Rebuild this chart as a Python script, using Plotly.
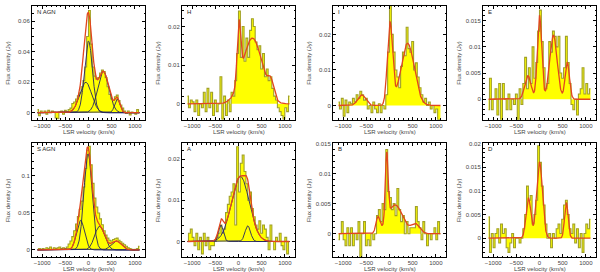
import numpy as np
import plotly.graph_objects as go

# ---------------- data ----------------
VEL = [-1100, -1060, -1020, -980, -940, -900, -860, -820, -780, -740, -700, -660, -620, -580,
       -540, -500, -460, -420, -380, -340, -300, -260, -220, -180, -140, -100, -60, -20,
       20, 60, 100, 140, 180, 220, 260, 300, 340, 380, 420, 460, 500, 540, 580, 620,
       660, 700, 740, 780, 820, 860, 900, 940, 980, 1020, 1060, 1100]

PANEL_NAMES = ["N AGN", "H", "I", "E", "S AGN", "A", "B", "D"]

FLUX_N_AGN = [0.002, -0.002, 0.001, 0.0, 0.001, -0.001, 0.0015, 0.0, 0.001, 0.0005, -0.0035, -0.004, 0.0005, 0.001,
              -0.001, 0.0015, 0.0005, 0.002, 0.003, 0.006, 0.007, 0.009, 0.011, 0.013, 0.017, 0.021, 0.03, 0.05,
              0.067, 0.045, 0.03, 0.024, 0.022, 0.023, 0.026, 0.028, 0.027, 0.023, 0.017, 0.012, 0.009, 0.008, 0.0105, 0.0115,
              0.008, 0.005, 0.003, 0.001, -0.0005, 0.001, -0.0015, 0.0005, 0.0, -0.001, 0.002, 0.0]
FLUX_H = [0.002, -0.001, 0.001, 0.0005, -0.002, 0.001, -0.003, 0.0, -0.001, 0.003, -0.002, 0.004, -0.001, 0.003,
          -0.003, 0.001, -0.002, 0.0, 0.007, -0.004, 0.002, -0.003, 0.001, -0.002, 0.003, 0.002, 0.006, 0.013,
          0.024, 0.012, 0.02, 0.011, 0.017, 0.012, 0.019, 0.022, 0.02, 0.016, 0.014, 0.015, 0.009, 0.013, 0.007, 0.009,
          0.006, 0.007, 0.004, 0.002, 0.001, -0.001, -0.002, -0.003, -0.004, -0.001, -0.002, 0.002]
FLUX_I = [0.001, -0.001, 0.002, -0.003, 0.0015, -0.002, 0.001, 0.0005, 0.002, 0.001, 0.003, 0.002, 0.004, 0.003,
          0.0015, 0.002, -0.001, 0.0, -0.002, 0.001, -0.001, -0.002, 0.0005, -0.002, 0.0, -0.001, 0.003, 0.015,
          0.028, 0.02, 0.015, 0.01, 0.008, 0.005, 0.011, 0.015, 0.014, 0.022, 0.016, 0.015, 0.018, 0.01, 0.012, 0.008,
          0.005, 0.003, 0.001, 0.002, 0.0, 0.001, -0.001, 0.0, -0.002, -0.001, -0.004, -0.004]
FLUX_E = [-0.002, 0.004, -0.002, 0.0, 0.002, -0.003, 0.003, -0.004, 0.003, 0.0, -0.002, 0.001, -0.002, 0.0,
          -0.001, 0.001, -0.004, 0.002, -0.001, 0.003, 0.008, 0.002, 0.006, 0.003, 0.01, 0.004, 0.007, 0.013,
          0.017, 0.011, 0.006, 0.002, 0.003, 0.011, 0.009, 0.013, 0.012, 0.01, 0.012, 0.005, 0.004, 0.006, 0.012, 0.007,
          0.003, -0.001, -0.002, 0.0, -0.003, 0.001, 0.002, 0.006, 0.001, 0.003, 0.001, 0.002]
FLUX_S_AGN = [0.0, 0.002, 0.001, 0.002, 0.001, 0.003, 0.002, 0.004, 0.001, 0.003, 0.002, 0.003, 0.004, 0.002,
              0.003, 0.002, 0.004, 0.008, 0.012, 0.018, 0.026, 0.035, 0.045, 0.055, 0.066, 0.085, 0.11, 0.135,
              0.14, 0.115, 0.09, 0.07, 0.058, 0.05, 0.042, 0.034, 0.026, 0.02, 0.016, 0.013, 0.012, 0.014, 0.015, 0.016,
              0.013, 0.011, 0.009, 0.007, 0.005, 0.003, 0.002, 0.001, 0.0, 0.001, 0.002, 0.005]
FLUX_A = [0.0, 0.002, 0.003, 0.001, -0.001, 0.002, -0.002, 0.001, -0.003, 0.002, -0.001, 0.001, -0.002, -0.001,
          -0.001, 0.0, 0.001, 0.002, 0.004, 0.002, 0.003, 0.007, 0.009, 0.011, 0.012, 0.014, 0.004, 0.023,
          0.012, 0.019, 0.021, 0.017, 0.014, 0.01, 0.012, 0.008, 0.006, 0.004, 0.003, 0.005, 0.002, 0.004, 0.003, 0.001,
          -0.002, 0.004, 0.0, -0.002, 0.001, 0.0, 0.002, -0.001, -0.002, 0.001, -0.003, 0.0]
FLUX_B = [-0.001, 0.0, 0.002, -0.001, -0.002, 0.001, -0.002, 0.001, -0.002, 0.0, -0.001, 0.002, -0.004, 0.0,
          0.002, -0.002, -0.001, -0.002, 0.0, -0.001, 0.0, 0.003, 0.004, 0.002, 0.005, 0.004, 0.014, 0.007,
          0.006, 0.004, 0.005, 0.003, 0.0075, 0.004, 0.002, 0.003, 0.0, 0.002, 0.0, 0.001, 0.001, 0.001, 0.0045, 0.002,
          0.001, -0.001, 0.002, 0.0, -0.002, 0.0, -0.001, 0.0, 0.001, -0.001, 0.002, 0.0]
FLUX_D = [0.0045, -0.003, 0.001, -0.002, 0.001, 0.002, -0.001, 0.003, 0.001, 0.002, -0.002, -0.003, -0.001, 0.001,
          -0.002, 0.0, 0.0, -0.001, 0.0, 0.002, 0.005, 0.011, 0.008, 0.009, 0.003, 0.005, 0.008, 0.0195,
          0.016, 0.011, 0.007, 0.003, 0.0, 0.001, -0.002, 0.001, 0.0, 0.002, 0.003, 0.001, 0.004, 0.007, 0.008, 0.005,
          0.002, 0.001, 0.003, -0.001, 0.002, -0.002, 0.001, -0.003, 0.001, 0.003, 0.002, 0.004]

# Gaussian fit components: amplitude (Jy), centre (km/s), FWHM (km/s)
FIT_AMP_N_AGN = [0.02, 0.047, 0.027, 0.009]
FIT_CEN_N_AGN = [-60, 0, 320, 620]
FIT_FWHM_N_AGN = [300, 200, 280, 130]
FIT_AMP_H = [0.015, 0.017, 0.004]
FIT_CEN_H = [10, 300, 700]
FIT_FWHM_H = [90, 500, 150]
FIT_AMP_I = [0.023, 0.0175, 0.003]
FIT_CEN_I = [10, 390, -600]
FIT_FWHM_I = [130, 340, 200]
FIT_AMP_E = [0.016, 0.0045, 0.0122, 0.007]
FIT_CEN_E = [0, -250, 300, 600]
FIT_FWHM_E = [110, 160, 190, 110]
FIT_AMP_S_AGN = [0.13, 0.04, 0.032, 0.012]
FIT_CEN_S_AGN = [-10, -170, 240, 600]
FIT_FWHM_S_AGN = [210, 200, 250, 250]
FIT_AMP_A = [0.0158, 0.004, 0.0038]
FIT_CEN_A = [40, -380, 200]
FIT_FWHM_A = [450, 120, 140]
FIT_AMP_B = [0.011, 0.0048, 0.0025, 0.0016]
FIT_CEN_B = [-60, 120, -250, 560]
FIT_FWHM_B = [70, 380, 100, 220]
FIT_AMP_D = [0.016, 0.0085, 0.0075]
FIT_CEN_D = [0, -240, 580]
FIT_FWHM_D = [150, 120, 90]

SHOW_COMPONENTS = [True, False, False, False, True, True, False, False]

Y_RANGES = [[-0.0046, 0.070], [-0.0041, 0.0253], [-0.004, 0.028], [-0.0039, 0.0178],
            [-0.0098, 0.144], [-0.0038, 0.0238], [-0.0039, 0.015], [-0.004, 0.02]]
Y_DTICK = [0.02, 0.01, 0.01, 0.005, 0.05, 0.01, 0.005, 0.005]
Y_MINOR = [0.005, 0.002, 0.002, 0.001, 0.01, 0.002, 0.001, 0.001]

FLUXES = [FLUX_N_AGN, FLUX_H, FLUX_I, FLUX_E, FLUX_S_AGN, FLUX_A, FLUX_B, FLUX_D]
FITS = [(FIT_AMP_N_AGN, FIT_CEN_N_AGN, FIT_FWHM_N_AGN), (FIT_AMP_H, FIT_CEN_H, FIT_FWHM_H),
        (FIT_AMP_I, FIT_CEN_I, FIT_FWHM_I), (FIT_AMP_E, FIT_CEN_E, FIT_FWHM_E),
        (FIT_AMP_S_AGN, FIT_CEN_S_AGN, FIT_FWHM_S_AGN), (FIT_AMP_A, FIT_CEN_A, FIT_FWHM_A),
        (FIT_AMP_B, FIT_CEN_B, FIT_FWHM_B), (FIT_AMP_D, FIT_CEN_D, FIT_FWHM_D)]

# ---------------- layout ----------------
W, H = 600, 272
COL_LEFT = [32, 182, 333, 483]
ROW_TOP = [3, 142]
PW, PH = 113, 115

FONT = "Liberation Sans"
TXT = "#444444"
YELLOW = "#ffff00"
OLIVE = "#a0a028"
RED = "#e2461e"
COMP = "#262660"

vgrid = np.linspace(-1100, 1100, 441)


def gauss(v, a, c, f):
    return a * np.exp(-4 * np.log(2) * ((v - c) / f) ** 2)


fig = go.Figure()
annotations = []
for i, name in enumerate(PANEL_NAMES):
    r, c = divmod(i, 4)
    left, top = COL_LEFT[c], ROW_TOP[r]
    xa = "x" if i == 0 else f"x{i+1}"
    ya = "y" if i == 0 else f"y{i+1}"
    # spectrum: filled histogram
    fig.add_trace(go.Scatter(x=VEL, y=FLUXES[i], mode="lines", line=dict(shape="hvh", color=OLIVE, width=1.1),
                             fill="tozeroy", fillcolor=YELLOW, xaxis=xa, yaxis=ya, showlegend=False,
                             hoverinfo="skip"))
    amps, cens, fwhms = FITS[i]
    total = np.zeros_like(vgrid)
    comps = []
    for a, ce, fw in zip(amps, cens, fwhms):
        g = gauss(vgrid, a, ce, fw)
        comps.append(g)
        total = total + g
    if SHOW_COMPONENTS[i]:
        for g in comps:
            fig.add_trace(go.Scatter(x=vgrid, y=g, mode="lines", line=dict(color=COMP, width=0.9),
                                     xaxis=xa, yaxis=ya, showlegend=False, hoverinfo="skip"))
    fig.add_trace(go.Scatter(x=vgrid, y=total, mode="lines", line=dict(color=RED, width=1.3),
                             xaxis=xa, yaxis=ya, showlegend=False, hoverinfo="skip"))

    xdom = [left / W, (left + PW) / W]
    ydom = [1 - (top + PH) / H, 1 - top / H]
    axcommon = dict(showline=True, linecolor="black", linewidth=1, mirror="allticks", ticks="inside",
                    ticklen=3, tickwidth=0.8, tickcolor="black", showgrid=False, zeroline=False,
                    tickfont=dict(family=FONT, size=6, color=TXT))
    fig.update_layout(**{
        ("xaxis" if i == 0 else f"xaxis{i+1}"): dict(
            domain=xdom, anchor=ya, range=[-1220, 1220], tick0=0, dtick=500,
            minor=dict(ticks="inside", dtick=100, ticklen=1.5, tickcolor="black", tickwidth=0.6),
            **axcommon),
        ("yaxis" if i == 0 else f"yaxis{i+1}"): dict(
            domain=ydom, anchor=xa, range=Y_RANGES[i], tick0=0, dtick=Y_DTICK[i],
            minor=dict(ticks="inside", dtick=Y_MINOR[i], ticklen=1.5, tickcolor="black", tickwidth=0.6),
            **axcommon),
    })
    annotations.append(dict(x=(left + 3) / W, y=1 - (top + 6) / H, xref="paper", yref="paper",
                            text=name, showarrow=False, xanchor="left", yanchor="middle",
                            font=dict(family=FONT, size=6, color="#222222")))
    annotations.append(dict(x=(left + PW / 2) / W, y=1 - (top + PH + 12) / H, xref="paper", yref="paper",
                            text="LSR velocity (km/s)", showarrow=False, xanchor="center", yanchor="middle",
                            font=dict(family=FONT, size=6, color=TXT)))
    annotations.append(dict(x=(left - 24) / W, y=1 - (top + PH / 2) / H, xref="paper", yref="paper",
                            text="Flux density (Jy)", showarrow=False, textangle=-90, xanchor="center",
                            yanchor="middle", font=dict(family=FONT, size=6, color=TXT)))

fig.update_layout(width=W, height=H, margin=dict(l=0, r=0, t=0, b=0), paper_bgcolor="white",
                  plot_bgcolor="white", annotations=annotations, showlegend=False)
fig.write_html("out.html", config={"displayModeBar": False},
               post_script="document.body.style.margin='0';document.body.style.overflow='hidden';")
